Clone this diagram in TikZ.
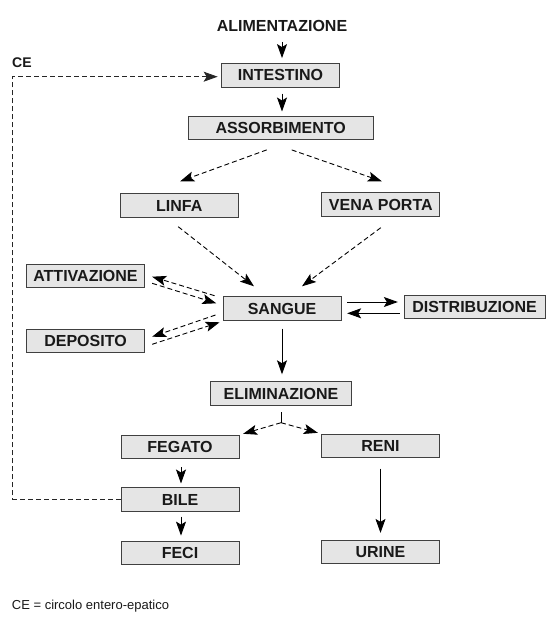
\documentclass[tikz,border=0pt]{standalone}
\usepackage{fontspec}
\setmainfont{Liberation Sans}
\usetikzlibrary{arrows.meta}
\tikzset{
  organ/.style={draw=black!75,fill=black!10,line width=0.9pt,text=black!90,
    minimum width=118pt,minimum height=23.5pt,inner sep=0pt,
    font=\fontsize{16}{18}\selectfont\bfseries},
  arr/.style={-{Stealth[length=14pt,width=10pt,inset=3pt]},line width=0.9pt,black},
  darr/.style={arr,dash pattern=on 5pt off 3pt}
}
\newcommand\organ[4][]{\node(#2)[organ,#1] at (#3){#4};}

\begin{document}
\begin{tikzpicture}[x=1pt,y=-1pt]
    \useasboundingbox (0,0) rectangle (555,621);
    \node(ali)[inner sep=0pt,text=black!90,font=\fontsize{16}{18}\selectfont\bfseries] at (282,26){ALIMENTAZIONE};
    \node(celab)[anchor=west,inner sep=0pt,text=black!90,font=\fontsize{14}{16}\selectfont\bfseries] at (12,63){CE};
    \organ{int}{280.5,75.3}{INTESTINO}
    \organ[minimum width=185pt]{ass}{280.7,127.7}{ASSORBIMENTO}
    \organ{lin}{179.2,205.5}{LINFA}
    \organ{ven}{380.8,204.5}{VENA PORTA}
    \organ{att}{85.5,276}{ATTIVAZIONE}
    \organ{san}{282,308.5}{SANGUE}
    \organ[minimum width=141pt]{dis}{474.5,306.7}{DISTRIBUZIONE}
    \organ{dep}{85.5,340.7}{DEPOSITO}
    \organ[minimum width=141pt]{eli}{281,393.5}{ELIMINAZIONE}
    \organ{feg}{180,447}{FEGATO}
    \organ{ren}{380.5,446}{RENI}
    \organ{bil}{180,499.5}{BILE}
    \organ{fec}{180,553}{FECI}
    \organ{uri}{380.5,551.7}{URINE}
    \coordinate (fork) at (281,422.7);
    \coordinate (corner) at (12.7,76.7);
    % intake and absorption
    \draw[arr,shorten <=10pt,shorten >=5pt] (ali.south) -- (ali.south |- int.north);
    \draw[arr,shorten <=6pt,shorten >=4pt] ([xshift=1.5pt]int.south) -- ([xshift=1.5pt]int.south |- ass.north);
    \draw[darr] ([xshift=-14pt,yshift=-10pt]ass.south) -- ([xshift=1pt,yshift=12pt]lin.north);
    \draw[darr] ([xshift=11pt,yshift=-10pt]ass.south) -- ([xshift=1pt,yshift=11pt]ven.north);
    \draw[darr] ([xshift=-1pt,yshift=-9pt]lin.south) -- ([xshift=-28pt,yshift=10pt]san.north);
    \draw[darr] ([yshift=-11pt]ven.south) -- ([xshift=20pt,yshift=10pt]san.north);
    % blood exchanges
    \draw[darr] ([xshift=-8pt,yshift=12.8pt]san.west) -- ([xshift=7.2pt,yshift=-0.7pt]att.east);
    \draw[darr] ([xshift=7.2pt,yshift=-7.3pt]att.east) -- ([xshift=-6.3pt,yshift=5.2pt]san.west);
    \draw[darr] ([xshift=-7pt,yshift=-6.5pt]san.west) -- ([xshift=7.2pt,yshift=4pt]dep.east);
    \draw[darr] ([xshift=7.2pt,yshift=-3.6pt]dep.east) -- ([xshift=-3pt,yshift=-13.8pt]san.west);
    \draw[arr] ([xshift=5.7pt,yshift=6.5pt]san.east) -- ([xshift=-5.7pt,yshift=4.7pt]dis.west);
    \draw[arr] ([xshift=-4pt,yshift=-6.6pt]dis.west) -- ([xshift=5.7pt,yshift=-4.8pt]san.east);
    \draw[arr,shorten <=8pt,shorten >=7pt] (san.south) -- (san.south |- eli.north);
    % elimination
    \draw[line width=0.9pt,black,shorten <=6.5pt] (eli.south) -- (fork);
    \draw[darr] (fork) -- ([xshift=3.7pt,yshift=1pt]feg.north east);
    \draw[darr] (fork) -- ([xshift=-3.2pt,yshift=1pt]ren.north west);
    \draw[arr,shorten <=8pt,shorten >=3.8pt] ([xshift=1pt]feg.south) -- ([xshift=1pt]feg.south |- bil.north);
    \draw[arr,shorten <=4.8pt,shorten >=5.2pt] ([xshift=1pt]bil.south) -- ([xshift=1pt]bil.south |- fec.north);
    \draw[arr,shorten <=10.5pt,shorten >=6.6pt] (ren.south) -- (ren.south |- uri.north);
    % entero-hepatic circle
    \draw[darr,black!85] (bil.west) -| (corner) -- ([xshift=-3.4pt]corner -| int.west);
    \node(note)[anchor=west,inner sep=0pt,text=black!90,font=\fontsize{13}{15}\selectfont] at (11.7,606){CE = circolo entero-epatico};
\end{tikzpicture}
\end{document}
